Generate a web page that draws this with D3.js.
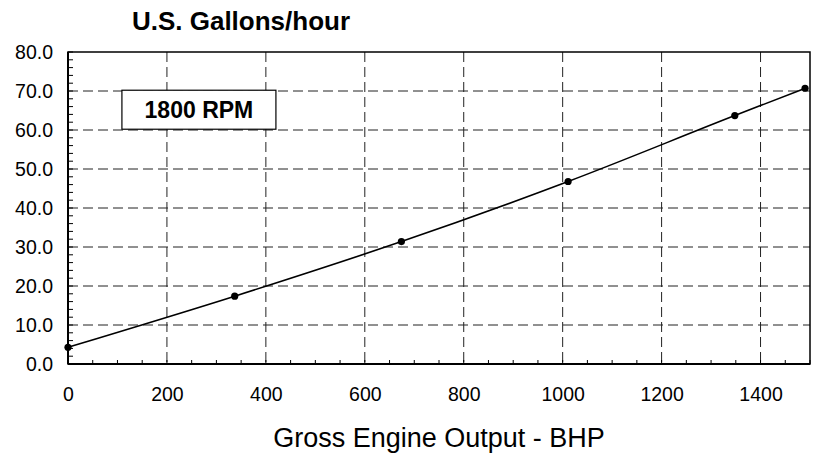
<!DOCTYPE html>
<html>
<head>
<meta charset="utf-8">
<script src="https://cdn.jsdelivr.net/npm/d3@7"></script>
<style>
  body { margin: 0; background: #fff; }
  svg { font-family: Arial, "Liberation Sans", sans-serif; }
</style>
</head>
<body>
<svg id="chart"></svg>
<script>
// data
const bhp = [0, 337, 674, 1011, 1348, 1490];
const gph = [4.3, 17.4, 31.4, 46.8, 63.7, 70.7];
const xTicks = [0, 200, 400, 600, 800, 1000, 1200, 1400];
const yTicks = [0, 10, 20, 30, 40, 50, 60, 70, 80];
const title = "U.S. Gallons/hour";
const xTitle = "Gross Engine Output - BHP";
const boxLabel = "1800 RPM";

const width = 814, height = 453;
const margin = {top: 52, right: 4, bottom: 89, left: 68};
const iw = width - margin.left - margin.right,
  ih = height - margin.top - margin.bottom;

const svg = d3.select("#chart")
  .attr("width", width)
  .attr("height", height);

const x = d3.scaleLinear().domain([0, 1500]).range([0, iw]);
const y = d3.scaleLinear().domain([0, 80]).range([ih, 0]);

const g = svg.append("g")
  .attr("transform", `translate(${margin.left},${margin.top})`);

// dashed grid
g.append("g").selectAll("line")
  .data(xTicks.filter(d => d > 0))
  .join("line")
    .attr("x1", d => x(d)).attr("x2", d => x(d))
    .attr("y1", 0).attr("y2", ih)
    .attr("stroke", "#222").attr("stroke-width", 1)
    .attr("stroke-dasharray", "10,5");
g.append("g").selectAll("line")
  .data(yTicks.filter(d => d > 0 && d < 80))
  .join("line")
    .attr("x1", 0).attr("x2", iw)
    .attr("y1", d => y(d)).attr("y2", d => y(d))
    .attr("stroke", "#222").attr("stroke-width", 1)
    .attr("stroke-dasharray", "10,5");

// minor ticks inside the frame
const xMinor = d3.range(0, 1501, 50);
const yMinor = d3.range(0, 81, 2);
g.append("g").selectAll("line")
  .data(xMinor)
  .join("line")
    .attr("x1", d => x(d)).attr("x2", d => x(d))
    .attr("y1", ih).attr("y2", ih - 4)
    .attr("stroke", "#000").attr("stroke-width", 1);
g.append("g").selectAll("line")
  .data(yMinor)
  .join("line")
    .attr("x1", 0).attr("x2", 5)
    .attr("y1", d => y(d)).attr("y2", d => y(d))
    .attr("stroke", "#000").attr("stroke-width", 1);

// frame
g.append("rect")
  .attr("width", iw).attr("height", ih)
  .attr("fill", "none").attr("stroke", "#000").attr("stroke-width", 1.5);
g.append("line").attr("x1", 0).attr("x2", 0).attr("y1", 0).attr("y2", ih)
  .attr("stroke", "#000").attr("stroke-width", 2);
g.append("line").attr("x1", 0).attr("x2", iw).attr("y1", ih).attr("y2", ih)
  .attr("stroke", "#000").attr("stroke-width", 2);

// axes labels
const xAxis = d3.axisBottom(x).tickValues(xTicks).tickSize(0).tickPadding(23)
  .tickFormat(d3.format("d"));
g.append("g").attr("transform", `translate(0,${ih})`).call(xAxis)
  .call(a => a.select(".domain").remove())
  .selectAll("text").attr("font-size", 19.5).attr("fill", "#000")
  .attr("font-family", "Arial, 'Liberation Sans', sans-serif");
const yAxis = d3.axisLeft(y).tickValues(yTicks).tickSize(0).tickPadding(15)
  .tickFormat(d3.format(".1f"));
g.append("g").call(yAxis)
  .call(a => a.select(".domain").remove())
  .selectAll("text").attr("font-size", 19.5).attr("fill", "#000")
  .attr("font-family", "Arial, 'Liberation Sans', sans-serif");

// series
const pts = bhp.map((d, i) => [d, gph[i]]);
g.append("path")
  .datum(pts)
  .attr("fill", "none").attr("stroke", "#000").attr("stroke-width", 1.6)
  .attr("d", d3.line().x(d => x(d[0])).y(d => y(d[1])).curve(d3.curveMonotoneX));
g.append("g").selectAll("circle")
  .data(pts)
  .join("circle")
    .attr("cx", d => x(d[0])).attr("cy", d => y(d[1]))
    .attr("r", 3.6).attr("fill", "#000");

// label box
const box = g.append("g").attr("transform", `translate(${x(109)},${y(70.2)})`);
box.append("rect")
  .attr("width", 154).attr("height", 39)
  .attr("fill", "#fff").attr("stroke", "#000").attr("stroke-width", 1.2);
box.append("text")
  .attr("x", 77).attr("y", 28)
  .attr("text-anchor", "middle")
  .attr("font-size", 23).attr("font-weight", "bold")
  .text(boxLabel);

// titles
svg.append("text")
  .attr("x", 241).attr("y", 30)
  .attr("text-anchor", "middle")
  .attr("font-size", 26).attr("font-weight", "bold")
  .text(title);
svg.append("text")
  .attr("x", 439).attr("y", 447)
  .attr("text-anchor", "middle")
  .attr("font-size", 27)
  .text(xTitle);
</script>
</body>
</html>
